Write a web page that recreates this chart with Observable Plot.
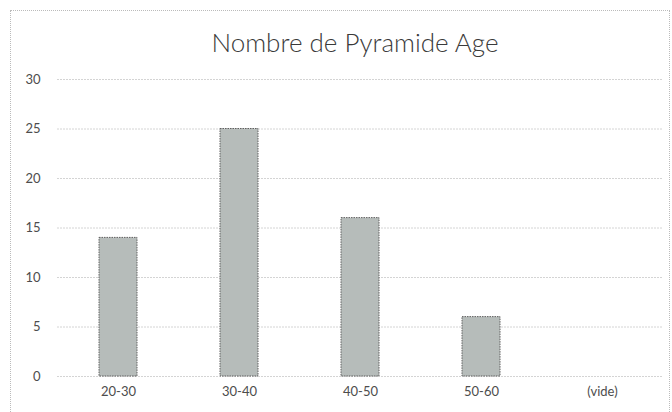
<!DOCTYPE html>
<html><head><meta charset="utf-8">
<script src="https://cdn.jsdelivr.net/npm/d3@7"></script>
<script src="https://cdn.jsdelivr.net/npm/@observablehq/plot@0.6"></script>
<style>
body{margin:0;background:#fff;font-family:Lato,"Open Sans",sans-serif;}
#wrap{position:relative;width:672px;height:412px;overflow:hidden;}
#frame{position:absolute;left:10px;top:10px;width:658px;height:420px;border:1px dotted #bbb;}
#title{position:absolute;left:0;top:0;width:710px;height:60px;line-height:84px;text-align:center;font-size:26px;font-weight:300;color:#3a3a3a;}
#chart{position:absolute;left:0;top:60px;}
</style></head>
<body><div id="wrap"><div id="frame"></div><div id="title">Nombre de Pyramide Age</div><div id="chart"></div></div>
<script>
const categories = ["20-30","30-40","40-50","50-60","(vide)"];
const values = [14,25,16,6,0];
const yTicks = [0,5,10,15,20,25,30];
const data = categories.map((c,i)=>({cat:c, val:values[i]}));
const chart = Plot.plot({
  width:672, height:352,
  marginTop:19, marginBottom:36, marginLeft:57, marginRight:10,
  style:{fontFamily:"Lato, 'Open Sans', sans-serif", fontSize:"13px", color:"#4d4d4d", background:"transparent"},
  x:{domain:categories, paddingInner:0.69, paddingOuter:0.345, label:null, tickSize:0, tickPadding:10},
  y:{domain:[0,30], ticks:yTicks, label:null, tickSize:0, tickPadding:17},
  marks:[
    Plot.gridY(yTicks,{stroke:"#d4d4d4", strokeOpacity:1, strokeDasharray:"2,1"}),
    Plot.barY(data.filter(d=>d.val>0),{x:"cat", y:"val", fill:"#b6bcba", stroke:"#606060", strokeDasharray:"1.5,1"}),
    Plot.axisX({tickSize:0, tickPadding:10, fontSize:13}),
    Plot.axisY(yTicks,{tickSize:0, tickPadding:17, fontSize:13})
  ]
});
document.getElementById("chart").appendChild(chart);
</script></body></html>
